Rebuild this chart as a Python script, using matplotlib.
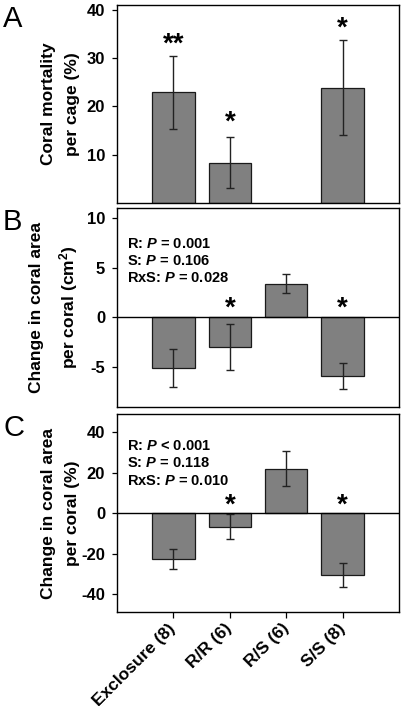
import numpy as np
import matplotlib
matplotlib.use("Agg")
import matplotlib.pyplot as plt

plt.rcParams['font.family'] = ['Liberation Sans', 'DejaVu Sans']
plt.rcParams['font.weight'] = 'bold'
plt.rcParams['axes.unicode_minus'] = False
plt.rcParams['mathtext.fontset'] = 'custom'
plt.rcParams['mathtext.it'] = 'Liberation Sans:italic:bold'
plt.rcParams['mathtext.rm'] = 'Liberation Sans:bold'
plt.rcParams['mathtext.bf'] = 'Liberation Sans:bold'

# data
groups = ["Exclosure (8)", "R/R (6)", "R/S (6)", "S/S (8)"]

mortality = [22.9, 8.3, np.nan, 23.9]
mortality_se = [7.5, 5.3, np.nan, 9.9]
mortality_stars = ["**", "*", "", "*"]
mortality_star_y = [32.7, 16.6, 0, 36.0]

area_cm2 = [-5.1, -3.0, 3.4, -5.9]
area_cm2_se = [1.9, 2.3, 1.0, 1.35]
area_cm2_stars = ["", "*", "", "*"]
area_cm2_star_y = [0, 0.9, 0, 0.9]
area_cm2_stats = ["R: $P$ = 0.001", "S: $P$ = 0.106", "RxS: $P$ = 0.028"]

area_pct = [-22.8, -6.6, 22.0, -30.4]
area_pct_se = [5.0, 6.3, 8.7, 6.0]
area_pct_stars = ["", "*", "", "*"]
area_pct_star_y = [0, 4.0, 0, 4.0]
area_pct_stats = ["R: $P$ < 0.001", "S: $P$ = 0.118", "RxS: $P$ = 0.010"]

fig = plt.figure(figsize=(4.02, 7.06), dpi=100)
left, width = 0.291, 0.7015
axA = fig.add_axes([left, 0.7125, width, 0.2805])
axB = fig.add_axes([left, 0.4239, width, 0.2814])
axC = fig.add_axes([left, 0.1327, width, 0.2805])

x = np.arange(len(groups))


def draw_panel(ax, vals, errs, stars, star_y, ylim, yticks, ylabel, letter, stats=None, stat_y=None, zero=False):
    ax.bar(x, vals, width=0.75, color="#808080", edgecolor="#1a1a1a", linewidth=0.9, zorder=2)
    ax.errorbar(x, vals, yerr=errs, fmt="none", ecolor="#222222", elinewidth=1.0,
                capsize=3, capthick=1.0, zorder=3)
    for xi, s, sy in zip(x, stars, star_y):
        if s:
            ax.text(xi, sy, s, ha="center", va="center", fontsize=20, fontweight="bold")
    if zero:
        ax.axhline(0, color="black", lw=1.0, zorder=4)
    ax.set_xlim(-1, 4)
    ax.set_ylim(*ylim)
    ax.set_yticks(yticks)
    ax.tick_params(axis="y", direction="out", length=3.5, width=0.9, pad=5, labelsize=12)
    ax.tick_params(axis="x", length=0)
    ax.set_xticks([])
    for sp in ax.spines.values():
        sp.set_linewidth(1.0)
    ax.set_ylabel(ylabel, fontsize=12.5, fontweight="bold", linespacing=1.75)
    ax.yaxis.set_label_coords(-0.13, 0.5)
    ax.text(-0.404, 1.0, letter, transform=ax.transAxes, fontsize=21, fontweight="normal",
            ha="left", va="top")
    if stats:
        for txt, ty in zip(stats, stat_y):
            ax.text(0.035, ty, txt, transform=ax.transAxes, fontsize=10.5,
                    fontweight="bold", ha="left", va="baseline")


draw_panel(axA, mortality, mortality_se, mortality_stars, mortality_star_y,
           (0, 41), [10, 20, 30, 40], "Coral mortality\nper cage (%)", "A")
draw_panel(axB, area_cm2, area_cm2_se, area_cm2_stars, area_cm2_star_y,
           (-9, 11), [-5, 0, 5, 10], "Change in coral area\nper coral (cm$^2$)", "B",
           area_cm2_stats, [0.797, 0.713, 0.629], zero=True)
draw_panel(axC, area_pct, area_pct_se, area_pct_stars, area_pct_star_y,
           (-49, 49), [-40, -20, 0, 20, 40], "Change in coral area\nper coral (%)", "C",
           area_pct_stats, [0.820, 0.734, 0.643], zero=True)

axC.set_xticks(x)
axC.set_xticklabels(groups, rotation=45, ha="right", va="center", rotation_mode="anchor",
                    fontsize=12.5, fontweight="bold")
axC.tick_params(axis="x", direction="out", length=4, width=0.9, pad=6)

fig.savefig("out.png", dpi=100)
